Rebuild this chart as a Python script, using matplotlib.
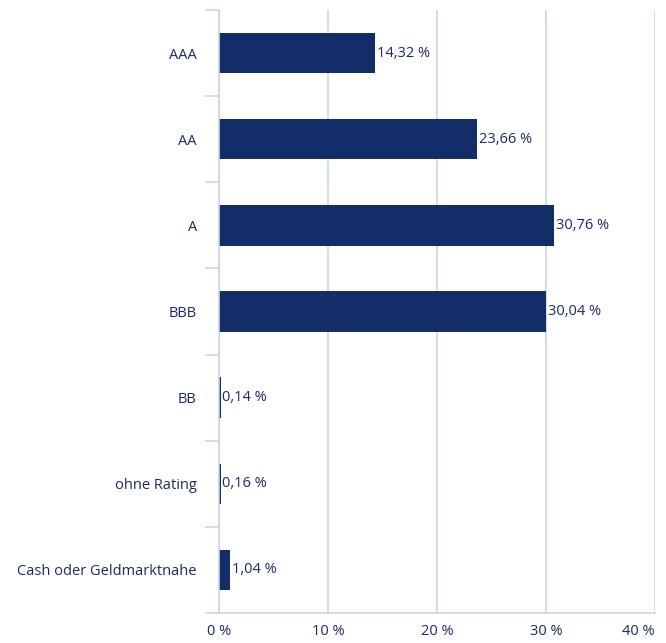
import matplotlib.pyplot as plt
import numpy as np

categories = ["AAA", "AA", "A", "BBB", "BB", "ohne Rating", "Cash oder Geldmarktnahe"]
values = [14.32, 23.66, 30.76, 30.04, 0.14, 0.16, 1.04]
value_labels = ["14,32 %", "23,66 %", "30,76 %", "30,04 %", "0,14 %", "0,16 %", "1,04 %"]
xticks = [0, 10, 20, 30, 40]
xtick_labels = ["0 %", "10 %", "20 %", "30 %", "40 %"]

navy = "#132d69"
text_col = "#1b2b5b"
grid_col = "#c9d5e6"

plt.rcParams['font.family'] = ['Open Sans', 'DejaVu Sans']

fig = plt.figure(figsize=(6.66, 6.43), dpi=100)
ax = fig.add_axes([219 / 666, 1 - 613 / 643, (655 - 219) / 666, (613 - 10) / 643])

y = np.arange(len(categories))
ax.barh(y, values, height=0.47, color=navy, linewidth=0, zorder=3)
for yi, v, lab in zip(y, values, value_labels):
    ax.text(v + 0.15, yi, lab, va="center", ha="left", fontsize=10.5, color=text_col, zorder=4)

ax.set_xlim(0, 40)
ax.set_ylim(len(categories) - 0.5, -0.5)

ax.set_xticks(xticks)
ax.set_xticklabels(xtick_labels, fontsize=10.5, color=text_col)
ax.get_xticklabels()[-1].set_ha("right")
ax.tick_params(axis="x", length=0, pad=8)
ax.grid(axis="x", color=grid_col, linewidth=1.2, zorder=0)

# category boundaries as major ticks, labels on minor ticks
ax.set_yticks(np.arange(len(categories) + 1) - 0.5)
ax.set_yticklabels([])
ax.tick_params(axis="y", which="major", length=10, width=1.2, color=grid_col)
ax.set_yticks(y, minor=True)
ax.set_yticklabels(categories, minor=True, fontsize=10.5, color=text_col)
ax.tick_params(axis="y", which="minor", length=0, pad=16)

for s in ["top", "right", "bottom"]:
    ax.spines[s].set_visible(False)
ax.spines["left"].set_color(grid_col)
ax.spines["left"].set_linewidth(1.2)
ax.spines["left"].set_zorder(4)
ax.axhline(len(categories) - 0.5, color=grid_col, linewidth=1.2, zorder=1, clip_on=False)

fig.savefig("out.png", dpi=100)
